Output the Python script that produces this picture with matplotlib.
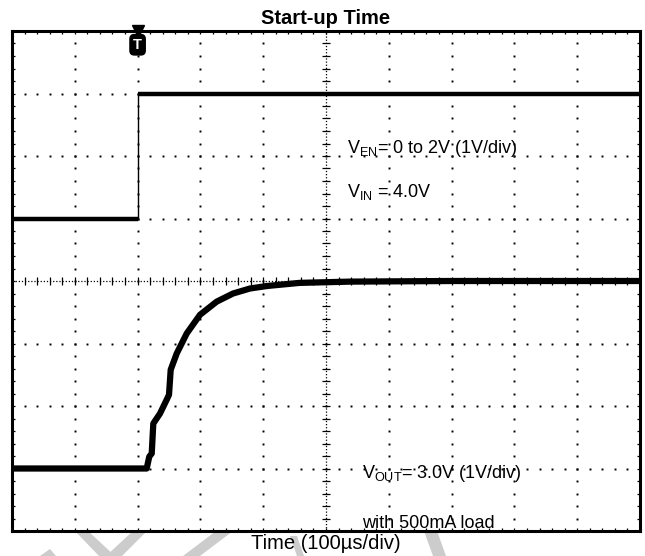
import numpy as np
import matplotlib
matplotlib.use('Agg')
import matplotlib.pyplot as plt
from matplotlib.patches import Polygon

plt.rcParams['font.family'] = ['Liberation Sans', 'DejaVu Sans']
plt.rcParams['mathtext.fontset'] = 'custom'
plt.rcParams['mathtext.rm'] = 'Liberation Sans'
plt.rcParams['mathtext.it'] = 'Liberation Sans'

# scope settings: 100us/div, 10 x 8 divisions, trigger at 2 div
t_start, t_stop = -200, 800
n_div_y = 8

# V_EN channel (1V/div), ground at 5 div
en_t = [-200, 0, 0, 800]
en_v = [0, 0, 2, 2]
en_offset = 5

# V_OUT channel (1V/div), ground at 1 div
vout_t = [-200, 14.5, 18.6, 22.5, 25, 35.7, 46.3, 50, 52.7, 62.3, 78.2, 99.4,
          126, 152, 179, 206, 258, 338, 500, 800]
vout_v = [0, 0, 0.19, 0.24, 0.72, 0.88, 1.10, 1.18, 1.58, 1.84, 2.16, 2.46,
          2.67, 2.80, 2.88, 2.92, 2.97, 2.99, 3.0, 3.0]
vout_offset = 1

W, H = 645, 556
fig = plt.figure(figsize=(W / 100, H / 100), dpi=100)

# faint watermark pieces peeking out under the frame
bg = fig.add_axes([0, 0, 1, 1], zorder=-1)
bg.set_xlim(0, W)
bg.set_ylim(H, 0)
bg.axis('off')
marks = [
    [(40, 556), (50, 549), (56, 556)],
    [(75, 531), (88, 531), (115, 556), (99, 556)],
    [(133, 531), (147, 531), (122, 556), (106, 556)],
    [(183, 556), (200, 556), (233, 531), (216, 531)],
    [(290, 536), (297, 536), (304, 556), (297, 556)],
    [(424, 531), (437, 531), (446, 556), (433, 556)],
]
for m in marks:
    bg.add_patch(Polygon(m, closed=True, color='#cccccc', lw=0))

ax = fig.add_axes([12 / W, 1 - 531 / H, 628 / W, 500 / H], zorder=1)
ax.set_xlim(t_start, t_stop)
ax.set_ylim(0, n_div_y)
ax.set_facecolor('white')

# graticule dots
centre_t = (t_start + t_stop) / 2
xs_major = np.arange(t_start + 100, t_stop, 100)
ys_major = np.arange(1, n_div_y)
for x in xs_major:
    if x == centre_t:
        continue
    yy = np.arange(0, n_div_y + 0.001, 0.2)
    ax.plot(np.full_like(yy, x), yy, ls='none', marker='s', ms=1.4, mew=0, color='k')
for y in ys_major:
    if y == n_div_y / 2:
        continue
    xx = np.arange(t_start, t_stop + 0.001, 20)
    ax.plot(xx, np.full_like(xx, y, dtype=float), ls='none', marker='s', ms=1.4, mew=0, color='k')

# centre axes with small cross ticks
ax.plot([centre_t, centre_t], [0, n_div_y], ls=(0, (1, 1.5)), lw=0.9, color='k')
ax.plot([t_start, t_stop], [4, 4], ls=(0, (1, 1.5)), lw=0.9, color='k')
yy = np.arange(0, n_div_y + 0.001, 0.2)
ax.plot(np.full_like(yy, centre_t), yy, ls='none', marker='_', ms=6, mew=0.9, color='k')
xx = np.arange(t_start, t_stop + 0.001, 20)
ax.plot(xx, np.full_like(xx, 4.0, dtype=float), ls='none', marker='|', ms=6, mew=0.9, color='k')

# traces
en_y = [v + en_offset for v in en_v]
ax.plot(en_t[:2], en_y[:2], color='k', lw=3.2, solid_capstyle='butt')
ax.plot(en_t[2:], en_y[2:], color='k', lw=3.2, solid_capstyle='butt')
ax.plot(en_t[1:3], en_y[1:3], color='k', lw=1.0)
ax.plot(vout_t, [v + vout_offset for v in vout_v], color='k', lw=4.5)

# trigger marker
ax.plot([0], [n_div_y], marker='v', ms=9, color='k', clip_on=False, zorder=5)
ax.text(0, n_div_y - 0.22, 'T', color='white', fontsize=10.5, fontweight='bold',
        ha='center', va='center',
        bbox=dict(boxstyle='round,pad=0.22,rounding_size=0.3', fc='k', ec='k'))

# annotations
fs = 13
ax.text(333, 6.05, r'$\mathrm{V_{EN}}$= 0 to 2V (1V/div)', fontsize=fs)
ax.text(333, 5.34, r'$\mathrm{V_{IN}}$ = 4.0V', fontsize=fs)
ax.text(357, 0.85, r'$\mathrm{V_{OUT}}$= 3.0V (1V/div)', fontsize=fs)
ax.text(357, 0.05, 'with 500mA load', fontsize=fs, clip_on=True)

# frame and ticks
ax.set_xticks(np.arange(t_start, t_stop + 1, 100))
ax.set_xticks(np.arange(t_start, t_stop + 1, 20), minor=True)
ax.set_yticks(np.arange(0, n_div_y + 1, 1))
ax.set_yticks(np.arange(0, n_div_y + 0.001, 0.2), minor=True)
ax.tick_params(which='both', direction='in', length=2.5, width=0.9,
               top=True, right=True, labelbottom=False, labelleft=False)
for s in ax.spines.values():
    s.set_linewidth(2.2)
    s.set_zorder(6)

ax.set_title('Start-up Time', fontsize=14.5, fontweight='bold', pad=5)
ax.set_xlabel('Time (100µs/div)', fontsize=14.5, labelpad=2)

fig.savefig('out.png', dpi=100)
